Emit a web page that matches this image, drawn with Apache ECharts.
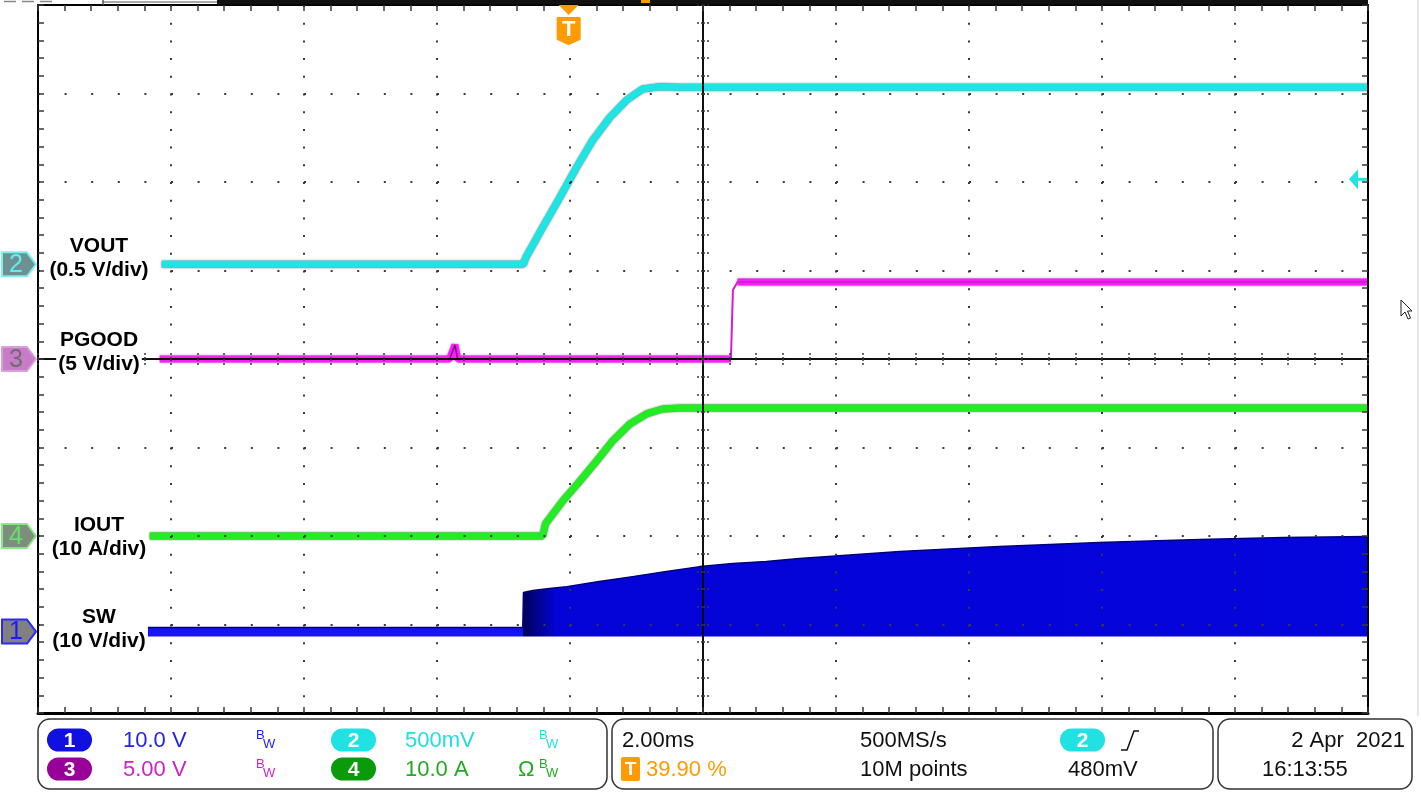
<!DOCTYPE html>
<html><head><meta charset="utf-8">
<script src="https://cdn.jsdelivr.net/npm/echarts@6/dist/echarts.min.js"></script>
<style>html,body{margin:0;padding:0;background:#fff}#c{width:1421px;height:792px}</style>
</head><body><div id="c"></div>
<script>
// ---- Horizontal: time in ms relative to screen centre (2.00 ms/div, 10 div)
const timeMin = -10, timeMax = 10, timeDiv = 2;
const divMin = -4, divMax = 4;
const triggerPercent = 39.90;      // trigger position on screen
const triggerLevel = 0.48;         // V, on channel 2 (VOUT)

// ---- Channels (index order: VOUT, PGOOD, IOUT, SW)
const chNames = ['VOUT', 'PGOOD', 'IOUT', 'SW'];
const chScaleLabels = ['(0.5 V/div)', '(5 V/div)', '(10 A/div)', '(10 V/div)'];
const chNumbers = ['2', '3', '4', '1'];
const chUnitsPerDiv = [0.5, 5, 10, 10];
const chOffsetDiv = [1.07, 0.0, -2.0, -3.08];

// ---- Traces (time ms, value in channel units)
const voutT = [-8.14, -2.70, -2.67, -2.41, -2.16, -1.90, -1.66, -1.40, -1.15, -0.91, -0.65, -0.35, 10.0];
const voutV = [0, 0, 0.034, 0.209, 0.373, 0.548, 0.700, 0.830, 0.927, 0.990, 1.003, 1.0, 1.0];

const pgoodT = [-8.17, -3.81, -3.73, -3.69, 0.42, 0.43, 0.45, 0.52, 10.0];
const pgoodV = [0, 0, 0.79, 0, 0, 0, 3.90, 4.35, 4.35];
const pgoodStepStart = 0.42, pgoodStepEnd = 0.52;

const ioutT = [-8.32, -2.41, -2.37, -2.11, -1.85, -1.60, -1.36, -1.10, -0.85, -0.61, -0.35, 10.0];
const ioutA = [0, 0, 1.36, 3.95, 6.21, 8.47, 10.73, 12.66, 13.79, 14.35, 14.46, 14.46];

// SW switching node: upper envelope of the dense switching band, lower rail
const swT = [-8.35, -2.71, -2.70, -2.56, -2.31, -2.05, -1.56, -1.06, -0.55, -0.05, 0.45, 0.95, 1.45, 2.96, 4.46, 5.96, 7.47, 8.73, 10.0];
const swTopV = [0.45, 0.45, 4.41, 4.63, 4.86, 5.08, 5.65, 6.21, 6.78, 7.34, 7.68, 7.91, 8.25, 9.04, 9.60, 10.06, 10.40, 10.62, 10.73];
const swBottomV = -0.56;

// ---- Status bar texts
const statusRow1 = ['10.0 V', '500mV', '2.00ms', '500MS/s', '2 Apr  2021'];
const statusRow2 = ['5.00 V', '10.0 A', '39.90 %', '10M points', '480mV', '16:13:55'];

function toDiv(v, ch) { return v / chUnitsPerDiv[ch] + chOffsetDiv[ch]; }
function pts(ts, vs, ch) { return ts.map((t, i) => [t, toDiv(vs[i], ch)]); }

const GRID = { left: 38, top: 5, width: 1330, height: 708 };
const minorX = GRID.width / ((timeMax - timeMin) / timeDiv * 5);
const minorY = GRID.height / ((divMax - divMin) * 5);
const DOT = '#3a3a3a';

function xAx(opts) {
  return Object.assign({
    type: 'value', min: timeMin, max: timeMax, interval: timeDiv, z: 5,
    axisLabel: { show: false }, splitLine: { show: false },
    minorSplitLine: { show: false }
  }, opts);
}
function yAx(opts) {
  return Object.assign({
    type: 'value', min: divMin, max: divMax, interval: 1, z: 5,
    axisLabel: { show: false }, splitLine: { show: false },
    minorSplitLine: { show: false }
  }, opts);
}
const tickS = { color: DOT, width: 1.5 };
const centreTick = { show: true, inside: false, length: 6, lineStyle: { color: DOT, width: 1.5, type: [2, 2] } };
const centreMinor = { show: true, splitNumber: 5, length: 6, lineStyle: { color: DOT, width: 1.5, type: [2, 2] } };

// PGOOD thick (noisy) parts exclude the fast edge, which is drawn thin
const pgoodPts = pts(pgoodT, pgoodV, 1);
const pgoodThick = pgoodPts.map(p => (p[0] > pgoodStepStart && p[0] < pgoodStepEnd) ? [p[0], null] : p);

const option = {
  animation: false,
  backgroundColor: '#fff',
  grid: { left: GRID.left, top: GRID.top, width: GRID.width, height: GRID.height, show: false },
  xAxis: [
    xAx({ position: 'bottom', axisLine: { onZero: false, lineStyle: { color: '#000', width: 3 } },
      axisTick: { show: true, inside: true, length: 6, lineStyle: tickS },
      minorTick: { show: true, splitNumber: 5, length: 6, lineStyle: tickS },
      splitLine: { show: true, lineStyle: { color: DOT, width: 2, type: [2, minorY - 2] } } }),
    xAx({ position: 'top', axisLine: { onZero: false, lineStyle: { color: '#000', width: 2 } },
      axisTick: { show: true, inside: true, length: 6, lineStyle: tickS },
      minorTick: { show: true, splitNumber: 5, length: 6, lineStyle: tickS } }),
    xAx({ position: 'bottom', axisLine: { onZero: true, onZeroAxisIndex: 0, lineStyle: { color: '#000', width: 1.5 } },
      axisTick: centreTick, minorTick: centreMinor }),
    xAx({ position: 'top', axisLine: { onZero: true, onZeroAxisIndex: 0, lineStyle: { color: '#000', width: 1.5 } },
      axisTick: centreTick, minorTick: centreMinor })
  ],
  yAxis: [
    yAx({ position: 'left', axisLine: { onZero: false, lineStyle: { color: '#000', width: 2 } },
      axisTick: { show: true, inside: true, length: 6, lineStyle: tickS },
      minorTick: { show: true, splitNumber: 5, length: 6, lineStyle: tickS },
      splitLine: { show: true, lineStyle: { color: DOT, width: 2, type: [2, minorX - 2] } } }),
    yAx({ position: 'right', axisLine: { onZero: false, lineStyle: { color: '#000', width: 2 } },
      axisTick: { show: true, inside: true, length: 6, lineStyle: tickS },
      minorTick: { show: true, splitNumber: 5, length: 6, lineStyle: tickS } }),
    yAx({ position: 'left', axisLine: { onZero: true, onZeroAxisIndex: 0, lineStyle: { color: '#000', width: 1.5 } },
      axisTick: centreTick, minorTick: centreMinor }),
    yAx({ position: 'right', axisLine: { onZero: true, onZeroAxisIndex: 0, lineStyle: { color: '#000', width: 1.5 } },
      axisTick: centreTick, minorTick: centreMinor })
  ],
  series: [
    { name: 'SW', type: 'line', xAxisIndex: 0, yAxisIndex: 0, z: 1, symbol: 'none',
      data: pts(swT, swTopV, 3),
      lineStyle: { color: '#00007a', width: 1.5 },
      areaStyle: { color: '#0404dc', opacity: 1, origin: toDiv(swBottomV, 3) } },
    { name: 'VOUT', type: 'line', xAxisIndex: 0, yAxisIndex: 0, z: 2, symbol: 'none',
      data: pts(voutT, voutV, 0),
      lineStyle: { color: '#1ee4e4', width: 7, shadowColor: 'rgba(0,70,70,0.8)', shadowBlur: 2 } },
    { name: 'PGOOD', type: 'line', xAxisIndex: 0, yAxisIndex: 0, z: 2, symbol: 'none', connectNulls: false,
      data: pgoodThick,
      lineStyle: { color: '#ff1aff', width: 7, shadowColor: 'rgba(90,0,90,0.6)', shadowBlur: 2 } },
    { name: 'PGOOD-edge', type: 'line', xAxisIndex: 0, yAxisIndex: 0, z: 2, symbol: 'none',
      data: pgoodPts.filter(p => p[0] >= pgoodStepStart - 0.01),
      lineStyle: { color: '#d020d0', width: 2 } },
    { name: 'PGOOD-core', type: 'line', xAxisIndex: 0, yAxisIndex: 0, z: 2, symbol: 'none',
      data: pgoodPts.filter(p => p[0] <= pgoodStepStart),
      lineStyle: { color: '#7a147a', width: 1.5 } },
    { name: 'IOUT', type: 'line', xAxisIndex: 0, yAxisIndex: 0, z: 2, symbol: 'none',
      data: pts(ioutT, ioutA, 2),
      lineStyle: { color: '#22ec22', width: 7, shadowColor: 'rgba(0,70,0,0.8)', shadowBlur: 2 } }
  ]
};

const chart = echarts.init(document.getElementById('c'));
chart.setOption(option);

// ---- SW gradient (darker persistence just after switching starts)
const px = (t, d) => chart.convertToPixel({ xAxisIndex: 0, yAxisIndex: 0 }, [t, d]);
const swStartPx = px(swT[2], 0)[0];
const swDarkEndPx = px(swT[2] + 0.5, 0)[0];
const gx0 = GRID.left, gx1 = GRID.left + GRID.width;
const fr = v => (v - gx0) / (gx1 - gx0);
chart.setOption({ series: [{ name: 'SW', areaStyle: { color: new echarts.graphic.LinearGradient(gx0, 0, gx1, 0, [
  { offset: 0, color: '#1414f4' }, { offset: fr(swStartPx) - 0.0005, color: '#1414f4' },
  { offset: fr(swStartPx), color: '#00005a' }, { offset: fr(swDarkEndPx), color: '#0404d8' },
  { offset: 1, color: '#0404dc' }], true) } }] });

// ---- Graphic decorations
const FONT = '"Liberation Sans", Arial, sans-serif';
const g = [];
const labelShift = [-6, -7, 1, -2];
const markerFill = ['#6f9090', '#c87cc8', '#7c8f7c', '#808080'];
const markerStroke = ['#7af0f0', '#d9a0d9', '#88e888', '#2a2aff'];
const markerText = ['#5ef0f0', '#6e6e6e', '#66e066', '#1a1aff'];
chNames.forEach((n, i) => {
  const y = px(0, chOffsetDiv[i])[1];
  g.push({ type: 'text', z: 50, x: 99, y: y + labelShift[i],
    style: { text: n + '\n' + chScaleLabels[i], font: 'bold 21px ' + FONT, fill: '#000',
      align: 'center', verticalAlign: 'middle', lineHeight: 24, backgroundColor: '#fff', padding: [0, 2] } });
  g.push({ type: 'polygon', z: 50, shape: { points: [[2, y - 12], [27, y - 12], [36, y], [27, y + 12], [2, y + 12]] },
    style: { fill: markerFill[i], stroke: markerStroke[i], lineWidth: 2, lineJoin: 'round' } });
  g.push({ type: 'text', z: 51, x: 16, y: y + 1,
    style: { text: chNumbers[i], font: '25px ' + FONT, fill: markerText[i], align: 'center', verticalAlign: 'middle' } });
});

// trigger position marker (T)
const trigT = timeMin + (timeMax - timeMin) * triggerPercent / 100;
const tx = px(trigT, 0)[0];
g.push({ type: 'polygon', z: 50, shape: { points: [[tx - 10, 5], [tx + 10, 5], [tx, 15]] }, style: { fill: '#ff9a00' } });
g.push({ type: 'polygon', z: 50, shape: { points: [[tx - 11, 18], [tx + 11, 18], [tx + 11, 39], [tx, 44], [tx - 11, 39]] },
  style: { fill: '#ff9a00', stroke: '#ff9a00', lineWidth: 2, lineJoin: 'round' } });
g.push({ type: 'text', z: 51, x: tx, y: 30, style: { text: 'T', font: 'bold 22px ' + FONT, fill: '#fff', align: 'center', verticalAlign: 'middle' } });

// trigger level arrow on right
const ty = px(0, toDiv(triggerLevel, 0))[1];
const rx = GRID.left + GRID.width;
g.push({ type: 'polygon', z: 50, shape: { points: [[rx - 19, ty], [rx - 10, ty - 10], [rx - 10, ty + 10]] }, style: { fill: '#1ee4e4' } });
g.push({ type: 'rect', z: 50, shape: { x: rx - 11, y: ty - 1.5, width: 10, height: 3 }, style: { fill: '#1ee4e4' } });

// top edge artefacts of the scope screen
g.push({ type: 'line', z: 50, shape: { x1: 4, y1: 1.5, x2: 58, y2: 1.5 }, style: { stroke: '#888', lineWidth: 1.5, lineDash: [12, 6] } });
g.push({ type: 'line', z: 50, shape: { x1: 103, y1: 2, x2: 217, y2: 2 }, style: { stroke: '#555', lineWidth: 1 } });
g.push({ type: 'line', z: 50, shape: { x1: 103, y1: 0, x2: 103, y2: 5 }, style: { stroke: '#555', lineWidth: 1.5 } });
g.push({ type: 'rect', z: 50, shape: { x: 217, y: 0, width: rx - 217, height: 4.5 }, style: { fill: '#111' } });
g.push({ type: 'rect', z: 51, shape: { x: 641, y: 0, width: 9, height: 3 }, style: { fill: '#ff9a00' } });
g.push({ type: 'line', z: 50, shape: { x1: 1418, y1: 0, x2: 1418, y2: 716 }, style: { stroke: '#dcdcdc', lineWidth: 1.5 } });
// mouse cursor
g.push({ type: 'polygon', z: 50, shape: { points: [[1401, 300], [1401, 316], [1405, 312], [1408, 319], [1410.5, 318], [1407.5, 311], [1412, 311]] },
  style: { fill: '#fff', stroke: '#222', lineWidth: 1 } });

// ---- Status bar
const SF = '22px ' + FONT;
function box(x, w) { g.push({ type: 'rect', z: 50, shape: { x: x, y: 719, width: w, height: 70, r: 12 }, style: { fill: '#fff', stroke: '#333', lineWidth: 1.5 } }); }
function pill(x, y, num, color) {
  g.push({ type: 'rect', z: 51, shape: { x: x, y: y - 11.5, width: 45, height: 23, r: 11.5 }, style: { fill: color } });
  g.push({ type: 'text', z: 52, x: x + 22.5, y: y + 1, style: { text: num, font: 'bold 21px ' + FONT, fill: '#fff', align: 'center', verticalAlign: 'middle' } });
}
function txt(x, y, s, color, align) {
  g.push({ type: 'text', z: 52, x: x, y: y + 1, style: { text: s, font: SF, fill: color, align: align || 'left', verticalAlign: 'middle' } });
}
function bw(x, y, color) {
  g.push({ type: 'text', z: 52, x: x, y: y - 5, style: { text: 'B', font: '13px ' + FONT, fill: color, verticalAlign: 'middle' } });
  g.push({ type: 'text', z: 52, x: x + 7, y: y + 4, style: { text: 'W', font: '13px ' + FONT, fill: color, verticalAlign: 'middle' } });
}
const r1 = 740, r2 = 769;
box(38, 569); box(612, 601); box(1218, 194);
pill(47, r1, '1', '#1010e0'); txt(123, r1, statusRow1[0], '#2222ee'); bw(256, r1, '#2222ee');
pill(331, r1, '2', '#20e2e2'); txt(405, r1, statusRow1[1], '#22dede'); bw(539, r1, '#22dede');
pill(47, r2, '3', '#990099'); txt(123, r2, statusRow2[0], '#cc22cc'); bw(256, r2, '#cc22cc');
pill(331, r2, '4', '#0a9a0a'); txt(405, r2, statusRow2[1], '#22aa22'); bw(539, r2, '#22aa22');
txt(518, r2, 'Ω', '#22aa22');
txt(622, r1, statusRow1[2], '#111');
txt(860, r1, statusRow1[3], '#111');
pill(1060, r1, '2', '#20e2e2');
g.push({ type: 'polyline', z: 52, shape: { points: [[1121, 750], [1127, 750], [1134, 731], [1139, 731]] }, style: { stroke: '#111', lineWidth: 1.5, fill: null } });
g.push({ type: 'rect', z: 51, shape: { x: 621, y: r2 - 12, width: 19, height: 24, r: 2 }, style: { fill: '#ff9a00' } });
g.push({ type: 'text', z: 52, x: 630.5, y: r2 + 1, style: { text: 'T', font: 'bold 19px ' + FONT, fill: '#fff', align: 'center', verticalAlign: 'middle' } });
txt(646, r2, statusRow2[2], '#ff9a00');
txt(860, r2, statusRow2[3], '#111');
txt(1068, r2, statusRow2[4], '#111');
txt(1405, r1, statusRow1[4], '#111', 'right');
txt(1262, r2, statusRow2[5], '#111');

chart.setOption({ graphic: { elements: g } });
</script>
</body></html>
